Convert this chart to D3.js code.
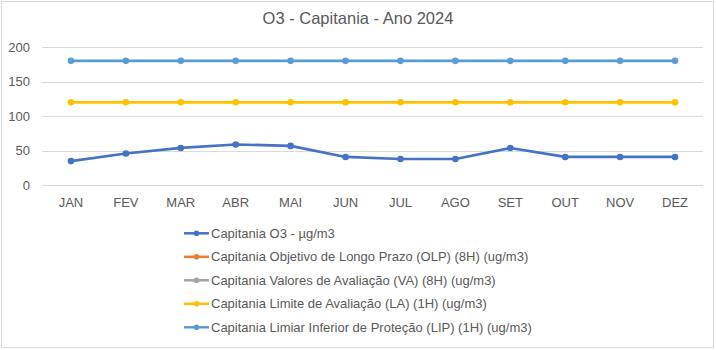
<!DOCTYPE html>
<html><head><meta charset="utf-8">
<script src="https://cdn.jsdelivr.net/npm/d3@7"></script>
<style>body{margin:0;background:#fff}svg{display:block}text{font-family:"Liberation Sans",Arial,sans-serif}</style>
</head><body>
<svg id="c" width="716" height="350"></svg>
<script>
const months = ["JAN","FEV","MAR","ABR","MAI","JUN","JUL","AGO","SET","OUT","NOV","DEZ"];
const o3 = [35,46,54,59,57,41,38,38,54,41,41,41];
const olp = [null,null,null,null,null,null,null,null,null,null,null,null];
const va = [null,null,null,null,null,null,null,null,null,null,null,null];
const la = [120,120,120,120,120,120,120,120,120,120,120,120];
const lip = [180,180,180,180,180,180,180,180,180,180,180,180];
const yTicks = [0,50,100,150,200];
const seriesNames = ["Capitania O3 - µg/m3","Capitania Objetivo de Longo Prazo (OLP) (8H) (ug/m3)","Capitania Valores de Avaliação (VA) (8H) (ug/m3)","Capitania Limite de Avaliação (LA) (1H) (ug/m3)","Capitania Limiar Inferior de Proteção (LIP) (1H) (ug/m3)"];
const seriesColors = ["#4472C4","#ED7D31","#A5A5A5","#FFC000","#5B9BD5"];
const seriesData = [o3, olp, va, la, lip];

const svg = d3.select("#c");
svg.append("rect").attr("x",1.5).attr("y",1.5).attr("width",712).attr("height",346)
  .attr("fill","#fff").attr("stroke","#d9d9d9");

svg.append("text").attr("x",358).attr("y",24).attr("text-anchor","middle")
  .attr("font-size",16.5).attr("fill","#595959").text("O3 - Capitania - Ano 2024");

const x = d3.scaleBand().domain(months).range([43.5,702.5]);
const y = d3.scaleLinear().domain([0,200]).range([185.3,47]);

const grid = svg.append("g");
grid.selectAll("line").data(yTicks).join("line")
  .attr("x1",42).attr("x2",703).attr("y1",d=>Math.round(y(d))+0.5).attr("y2",d=>Math.round(y(d))+0.5)
  .attr("stroke","#d9d9d9").attr("stroke-width",1);

const yAxis = svg.append("g").attr("transform","translate(30,0)")
  .call(d3.axisLeft(y).tickValues(yTicks).tickSize(0).tickPadding(0));
yAxis.select(".domain").remove();
yAxis.selectAll("text").attr("font-size",13).attr("fill","#595959").attr("font-family","Liberation Sans, Arial, sans-serif");

const xAxis = svg.append("g").attr("transform","translate(0,185.3)")
  .call(d3.axisBottom(x).tickSize(0).tickPadding(12));
xAxis.select(".domain").remove();
xAxis.selectAll("text").attr("font-size",13).attr("fill","#595959").attr("font-family","Liberation Sans, Arial, sans-serif");

const line = d3.line().defined(d=>d!=null).x((d,i)=>x(months[i])+x.bandwidth()/2).y(d=>y(d));
seriesData.forEach((data,si)=>{
  const g = svg.append("g");
  g.append("path").datum(data).attr("d",line).attr("fill","none")
    .attr("stroke",seriesColors[si]).attr("stroke-width",2.7).attr("stroke-linejoin","round");
  g.selectAll("circle").data(data.map((v,i)=>({v,i})).filter(d=>d.v!=null)).join("circle")
    .attr("cx",d=>x(months[d.i])+x.bandwidth()/2).attr("cy",d=>y(d.v)).attr("r",3.3)
    .attr("fill",seriesColors[si]);
});

const legY = d3.scaleLinear().domain([0,4]).range([233.3,327.3]);
const leg = svg.append("g");
seriesNames.forEach((n,i)=>{
  const yy = legY(i);
  leg.append("line").attr("x1",184).attr("x2",209).attr("y1",yy).attr("y2",yy)
    .attr("stroke",seriesColors[i]).attr("stroke-width",2.5);
  leg.append("circle").attr("cx",196.5).attr("cy",yy).attr("r",2.8).attr("fill",seriesColors[i]);
  leg.append("text").attr("x",211).attr("y",yy+4.5).attr("font-size",13).attr("fill","#595959").text(n);
});
</script>
</body></html>
